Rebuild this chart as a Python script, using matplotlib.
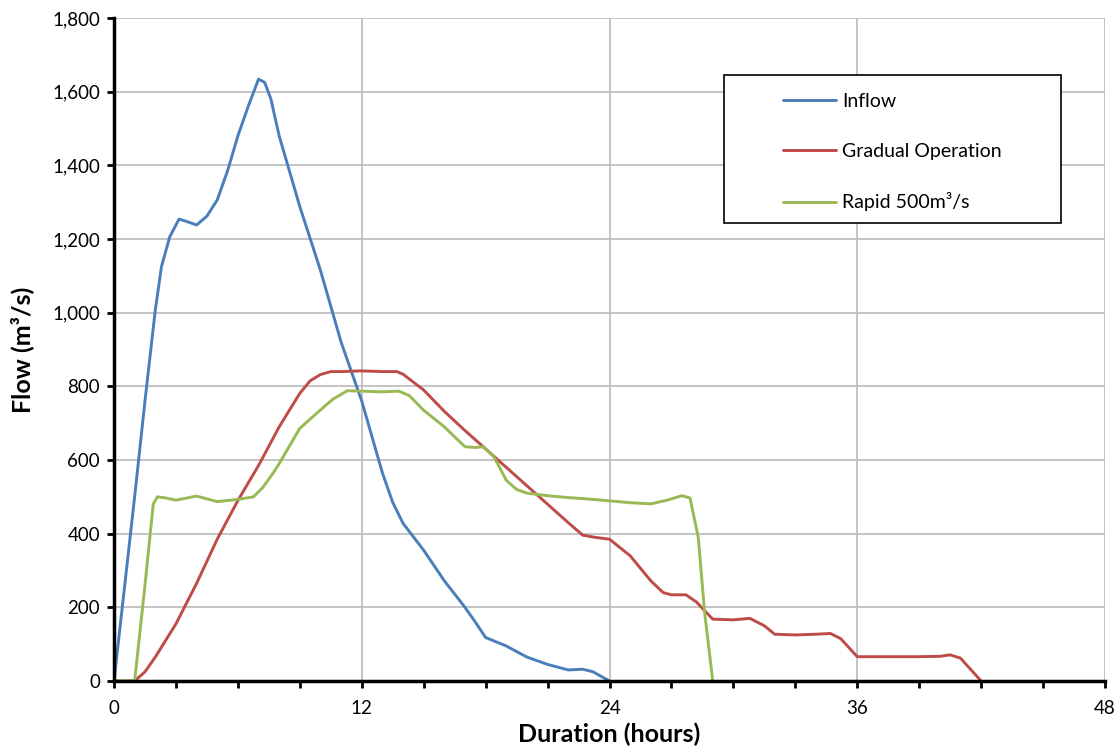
import matplotlib
matplotlib.use('Agg')
import matplotlib.pyplot as plt
import matplotlib.patches as mpatches
from matplotlib.ticker import MultipleLocator, FuncFormatter

plt.rcParams['font.family'] = ['Lato', 'DejaVu Sans']

# ── data ───────────────────────────────────────────────────────────────
inflow_t = [0, 0.5, 1, 1.5, 2, 2.3, 2.7, 3.15, 3.5, 4, 4.5, 5, 5.5, 6, 6.5, 7, 7.3,
            7.6, 8, 9, 10, 11, 12, 13, 13.5, 14, 15, 16, 17, 17.5, 18, 18.7, 19,
            20, 21, 22, 22.7, 23.2, 24]
inflow_q = [0, 250, 500, 760, 1007, 1125, 1206, 1254, 1248, 1238, 1262, 1306, 1385,
            1480, 1560, 1634, 1625, 1580, 1480, 1288, 1115, 920, 760, 565, 485, 428,
            355, 272, 200, 160, 118, 102, 95, 65, 45, 30, 32, 25, 0]

gradual_t = [0, 1, 1.5, 2, 3, 4, 5, 6, 7, 8, 9, 9.5, 10, 10.5, 11, 12, 13, 13.7, 14,
             15, 16, 17, 18, 19, 20, 21, 22, 22.7, 23.3, 24, 25, 26, 26.6, 27, 27.7,
             28.2, 29, 30, 30.8, 31.5, 32, 33, 34, 34.7, 35.2, 36, 37, 38, 39, 40,
             40.5, 41, 42]
gradual_q = [0, 0, 25, 65, 155, 265, 385, 490, 585, 690, 781, 815, 832, 840, 840, 842,
             840, 840, 833, 790, 732, 680, 630, 580, 530, 480, 430, 396, 390, 385,
             340, 272, 240, 234, 234, 215, 168, 166, 170, 150, 127, 125, 127, 129,
             115, 66, 66, 66, 66, 67, 71, 62, 0]

rapid_t = [0, 1, 1.5, 1.9, 2.1, 2.5, 3, 4, 5, 6, 6.75, 7.2, 7.7, 8, 9, 10, 10.6, 11.3,
           12, 13, 13.8, 14.3, 15, 16, 17, 17.5, 17.9, 18.4, 19, 19.5, 20, 21, 22,
           23, 24, 25, 26, 26.8, 27.5, 27.9, 28.3, 28.6, 29]
rapid_q = [0, 0, 260, 480, 500, 497, 491, 502, 487, 493, 500, 525, 564, 590, 686, 736,
           765, 788, 787, 785, 787, 775, 735, 690, 636, 634, 636, 609, 545, 520, 510,
           503, 498, 494, 489, 484, 481, 491, 503, 497, 390, 190, 0]

series = [('Inflow', inflow_t, inflow_q, '#4A7EBB'),
          ('Gradual Operation', gradual_t, gradual_q, '#BE4B48'),
          ('Rapid 500m³/s', rapid_t, rapid_q, '#98B954')]

# ── figure ────────────────────────────────────────────────────────────
fig = plt.figure(figsize=(11.19, 7.52), dpi=100)
ax = fig.add_axes([114/1119, 1-681/752, 991/1119, 663/752])

for lbl, t, q, col in series:
    ax.plot(t, q, color=col, linewidth=2.1, label=lbl, solid_joinstyle='round',
            solid_capstyle='round', zorder=3)

ax.set_xlim(0, 48)
ax.set_ylim(0, 1800)
ax.xaxis.set_major_locator(MultipleLocator(12))
ax.xaxis.set_minor_locator(MultipleLocator(3))
ax.yaxis.set_major_locator(MultipleLocator(200))
ax.yaxis.set_major_formatter(FuncFormatter(lambda v, p: f'{int(v):,}'))
ax.tick_params(axis='both', which='both', direction='out', length=5, width=2,
               labelsize=13.5, color='black')
ax.tick_params(axis='x', pad=9)
ax.tick_params(axis='y', pad=5)

ax.grid(True, which='major', color='#BFBFBF', linewidth=1.3, zorder=0)
ax.set_axisbelow(True)
for s in ['top', 'right']:
    ax.spines[s].set_visible(False)
for s in ['left', 'bottom']:
    ax.spines[s].set_linewidth(2.5)
    ax.spines[s].set_zorder(4)

ax.set_xlabel('Duration (hours)', fontsize=18, fontweight='bold', labelpad=4)
ax.set_ylabel('Flow (m³/s)', fontsize=18, fontweight='bold', labelpad=13)

# legend box drawn separately to match the wide Excel frame
box = mpatches.Rectangle(((724-114)/991, (681-223)/663), 337/991, 148/663,
                         transform=ax.transAxes, facecolor='white',
                         edgecolor='black', linewidth=1.2, zorder=5)
ax.add_patch(box)
leg = ax.legend(loc='upper left', bbox_to_anchor=((783-114)/991, (681-93)/663),
                frameon=False, fontsize=14, handlelength=2.75, handletextpad=0.3,
                labelspacing=1.68, borderpad=0, borderaxespad=0)
leg.set_zorder(6)

plt.savefig('out.png', dpi=100)
